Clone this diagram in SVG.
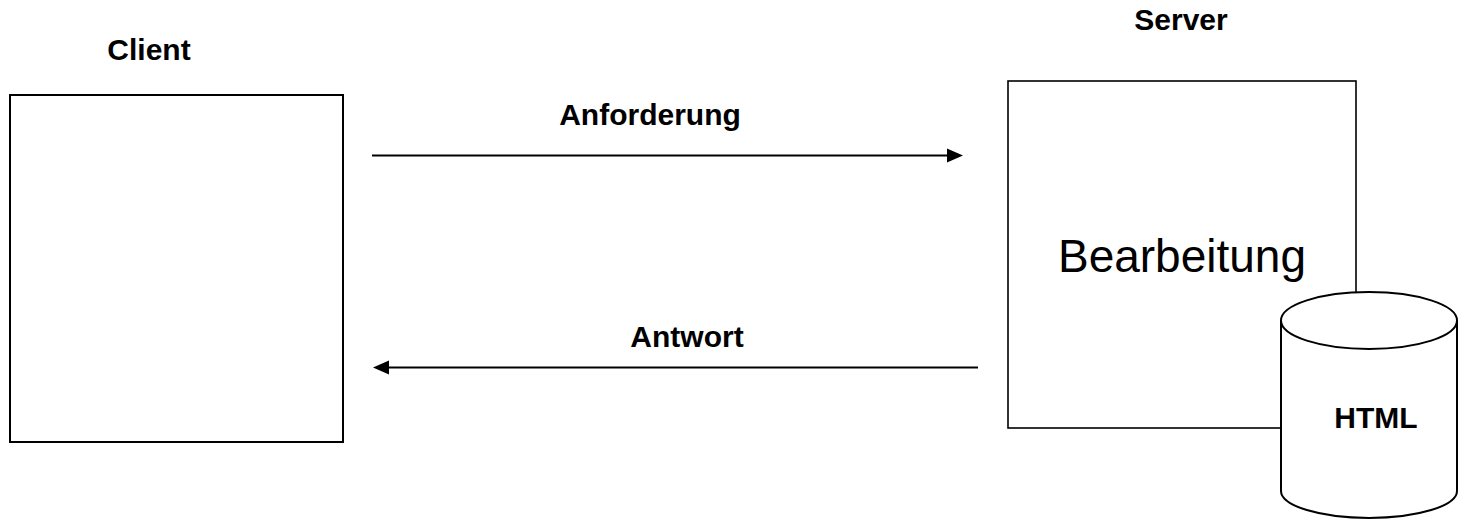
<svg xmlns="http://www.w3.org/2000/svg" width="1459" height="519" viewBox="0 0 1459 519">
<style>
.box{fill:#fff;stroke:#000;stroke-width:2}
.lbl{font-family:"Liberation Sans",Arial,sans-serif;font-weight:bold;font-size:30px;fill:#000;text-anchor:middle}
.big{font-family:"Liberation Sans",Arial,sans-serif;font-size:46px;fill:#000;text-anchor:middle}
.conn{stroke:#000;stroke-width:2;fill:none}
</style>
<rect width="1459" height="519" fill="#fff"/>
<g id="client">
<rect class="box" x="10" y="95" width="333" height="347"/>
<text class="lbl" x="149" y="60">Client</text>
</g>
<g id="server">
<rect class="box" x="1008" y="81" width="348" height="347" style="stroke-width:1.6"/>
<text class="lbl" x="1181" y="30">Server</text>
<text class="big" x="1182" y="272">Bearbeitung</text>
</g>
<g id="html">
<path class="box" d="M1281,320.5 L1281,491 A88,27 0 0 0 1457,491 L1457,320.5 A88,28.5 0 0 0 1281,320.5 Z"/>
<path class="conn" d="M1281,320.5 A88,28.5 0 0 0 1457,320.5"/>
<text class="lbl" x="1376" y="428">HTML</text>
</g>
<g id="connectors">
<line class="conn" x1="372" y1="155.5" x2="948" y2="155.5"/>
<polygon points="947,148.5 963,155.5 947,162.5" fill="#000"/>
<text class="lbl" x="650" y="125">Anforderung</text>
<line class="conn" x1="388" y1="367.5" x2="978" y2="367.5"/>
<polygon points="389,360.5 373,367.5 389,374.5" fill="#000"/>
<text class="lbl" x="687" y="347">Antwort</text>
</g>
</svg>
